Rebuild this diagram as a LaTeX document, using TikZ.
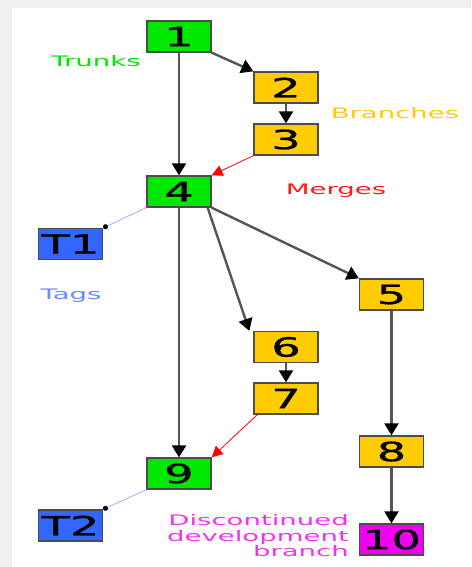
\documentclass[tikz,border=0pt]{standalone}
\usepackage{fontspec}
\setmainfont{DejaVu Sans}
\newfontfamily\boxfont[FakeBold=0.8]{DejaVu Sans}
\usetikzlibrary{arrows.meta}
\definecolor{trunkgreen}{RGB}{0,232,0}
\definecolor{branchyellow}{RGB}{255,204,0}
\definecolor{tagblue}{RGB}{51,102,255}
\definecolor{deadmagenta}{RGB}{240,0,240}
\definecolor{edgegray}{RGB}{85,85,85}
\newcommand{\wide}[1]{\scalebox{1.75}[1]{#1}}
\newcommand{\widelabel}[1]{\scalebox{1.9}[1]{#1}}
\tikzstyle{rev}=[draw=black!70, line width=1.3pt, minimum width=64pt, minimum height=31pt, inner sep=0pt, font=\boxfont\fontsize{26.5}{28}\selectfont]
\tikzstyle{trunk}=[rev, fill=trunkgreen]
\tikzstyle{branch}=[rev, fill=branchyellow]
\tikzstyle{tag}=[rev, fill=tagblue]
\tikzstyle{dead}=[rev, fill=deadmagenta]
\tikzstyle{edge}=[draw, edgegray, line width=2.4pt, -{Triangle[length=12pt,width=14pt,black]}]
\tikzstyle{merge edge}=[draw, red, line width=0.8pt, -{Triangle[length=11pt,width=11pt]}]
\tikzstyle{tag edge}=[draw, tagblue!50, line width=0.8pt, -{Circle[length=5pt,black]}]
\tikzstyle{caption}=[font=\fontsize{14.5}{15.5}\selectfont, inner sep=0pt]

\begin{document}
\begin{tikzpicture}[x=1pt, y=-1pt]
			\useasboundingbox (0,0) rectangle (471,567);
			\fill[black!6] (0,0) rectangle (471,567);
			\fill[white] (12,8) rectangle (471,567);

			% First we draw the revisions
			\foreach \pos/\name/\kind in {{(179,36.5)/1/trunk}, {(286,87.5)/2/branch}, {(286,139.5)/3/branch},
				{(179,191.5)/4/trunk}, {(70.5,244)/T1/tag}, {(391.5,294.5)/5/branch}, {(286,347)/6/branch},
				{(286,398.5)/7/branch}, {(391.5,451.5)/8/branch}, {(179,473.5)/9/trunk},
				{(70.5,525.5)/T2/tag}, {(391.5,539.5)/10/dead}}
			\node[\kind] (\name) at \pos {\wide{\name}};

			% Straight commits
			\foreach \source/ \dest in {1/4, 2/3, 4/9, 6/7, 5/8, 8/10}
			\path[edge] (\source) -- (\dest);

			% Branching off
			\path[edge] (1.south east) -- (2.north west);
			\path[edge] (4.south east) -- (5.north west);
			\path[edge] ([xshift=-4pt]4.south east) -- ([xshift=-4pt]6.north west);

			% Merges and tags
			\path[merge edge] (3.south west) -- (4.north east);
			\path[merge edge] ([xshift=4pt]7.south west) -- (9.north east);
			\foreach \source/ \dest in {4/T1, 9/T2}
			\path[tag edge] (\source.south west) -- (\dest.north east);

			% Captions
			\node[caption, text=trunkgreen, anchor=base] (trunks) at (96,67) {\widelabel{Trunks}};
			\node[caption, text=branchyellow, anchor=base] (branches) at (395,119) {\widelabel{Branches}};
			\node[caption, text=red!90, anchor=base] (merges) at (336,194) {\widelabel{Merges}};
			\node[caption, text=tagblue!75, anchor=base] (tags) at (71,299) {\widelabel{Tags}};
			\node[caption, text=deadmagenta!80, align=right, anchor=north east] (discontinued) at (349,514.5)
				{\widelabel{Discontinued}\\\widelabel{development}\\\widelabel{branch}};
\end{tikzpicture}
\end{document}
